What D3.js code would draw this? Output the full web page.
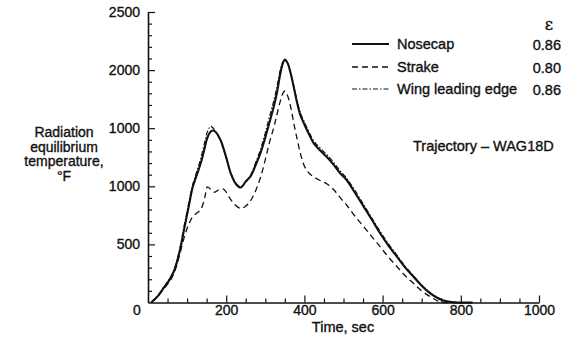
<!DOCTYPE html>
<html><head><meta charset="utf-8">
<script src="https://cdn.jsdelivr.net/npm/d3@7"></script>
<style>
html,body{margin:0;padding:0;background:#fff;}
svg{display:block;font-family:"Liberation Sans",Arial,Helvetica,sans-serif;}
svg text{stroke:#111;stroke-width:0.35px;}
</style></head>
<body>
<svg id="c" width="567" height="348"></svg>
<script>
// ---- data ----
const nosecapTime = [8,25,40,55,67,80,93,105,114,125,135,145,152,160,167,175,186,200,212,225,237,250,263,275,288,300,310,322,330,339,345,350,357,365,373,382,390,399,410,424,440,458,475,492,509,530,552,573,594,615,637,658,679,700,722,743,764,790,830];
const nosecapTemp = [0,55,125,195,275,425,640,840,990,1100,1200,1330,1420,1470,1480,1460,1395,1250,1110,1020,990,1040,1090,1180,1290,1420,1540,1690,1810,1980,2060,2090,2060,1970,1850,1710,1610,1540,1460,1370,1310,1250,1185,1110,1050,940,823,710,594,490,393,300,222,145,79,35,10,0,0];

const strakeTime = [8,25,40,55,67,80,93,105,114,125,135,145,152,160,167,173,181,191,200,207,220,237,250,263,275,288,300,310,322,330,339,345,350,357,365,373,382,390,399,410,424,440,458,475,492,509,530,552,573,594,615,637,658,679,700,722,740,756,790];
const strakeTemp = [0,50,115,180,255,400,565,680,737,770,800,900,995,975,950,952,970,980,950,910,850,809,830,880,960,1080,1230,1370,1510,1620,1740,1800,1820,1780,1682,1540,1396,1280,1181,1120,1081,1050,1020,970,900,835,740,651,565,479,390,308,230,165,100,50,15,0,0];

const wingTime = [8,25,40,55,67,80,93,105,114,125,135,145,152,160,167,175,186,200,212,225,237,250,263,275,288,300,310,322,330,339,345,350,357,365,373,382,390,399,410,424,440,458,475,492,509,530,552,573,594,615,637,658,679,700,722,743,764,790,830];
const wingTemp = [0,60,130,205,285,445,670,870,1010,1130,1240,1380,1470,1515,1500,1460,1385,1240,1110,1020,995,1045,1100,1200,1320,1460,1590,1740,1860,2010,2070,2090,2060,1975,1860,1725,1630,1560,1480,1390,1330,1270,1205,1130,1065,960,840,725,610,505,405,310,230,150,85,38,12,0,0];

const legendNames = ["Nosecap","Strake","Wing leading edge"];
const emissivity = ["0.86","0.80","0.86"];

const xTickValues = [200,400,600,800,1000];
const xTickLabels = ["200","400","600","800","1000"];
const yTickValues = [500,1000,1500,2000,2500];
const yTickLabels = ["500","1000","1000","2000","2500"];
const originLabel = "0";
const yTitle = ["Radiation","equilibrium","temperature,","°F"];
const xTitle = "Time, sec";
const annotation = "Trajectory \u2013 WAG18D";

// ---- drawing ----
const svg = d3.select("#c");
const x = d3.scaleLinear().domain([0,1000]).range([148,539]);
const y = d3.scaleLinear().domain([0,2500]).range([302.5,12]);
const ink = "#111";

const yMinor = d3.range(0,2501,100).filter(v => v % 500 !== 0);
const xMinor = d3.range(0,1001,50).filter(v => v % 200 !== 0);

svg.append("g").attr("transform",`translate(${x(0)},0)`)
  .call(d3.axisLeft(y).tickValues(yTickValues).tickSizeInner(-7).tickSizeOuter(0).tickPadding(8)
    .tickFormat((d,i)=>yTickLabels[i]));
svg.append("g").attr("transform",`translate(${x(0)},0)`)
  .call(d3.axisLeft(y).tickValues(yMinor).tickSize(-4).tickFormat(""))
  .select(".domain").remove();

svg.append("g").attr("transform",`translate(0,${y(0)})`)
  .call(d3.axisBottom(x).tickValues(xTickValues).tickSizeInner(-7).tickSizeOuter(0).tickPadding(3)
    .tickFormat((d,i)=>xTickLabels[i]));
svg.append("g").attr("transform",`translate(0,${y(0)})`)
  .call(d3.axisBottom(x).tickValues(xMinor).tickSize(-4).tickFormat(""))
  .select(".domain").remove();

svg.selectAll(".domain").attr("stroke",ink).attr("stroke-width",1.6);
svg.selectAll(".tick line").attr("stroke",ink).attr("stroke-width",1.2);
svg.selectAll(".tick text").attr("fill",ink).style("font-size","14px").style("font-family",'"Liberation Sans",Arial,sans-serif');

svg.append("text").attr("x",137).attr("y",315).attr("text-anchor","middle")
  .attr("fill",ink).style("font-size","14px").text(originLabel);

svg.append("text").attr("x",343).attr("y",332).attr("text-anchor","middle")
  .attr("fill",ink).style("font-size","14.5px").text(xTitle);
const yt = svg.append("text").attr("text-anchor","middle").attr("fill",ink).style("font-size","14px");
yTitle.forEach((s,i)=>yt.append("tspan").attr("x",64).attr("y",137+i*14.6).text(s));

const line = d3.line().x(d=>x(d[0])).y(d=>y(d[1])).curve(d3.curveCatmullRom.alpha(0.5));
const series = [
  {t:nosecapTime, v:nosecapTemp, w:2.1, dash:null},
  {t:strakeTime,  v:strakeTemp,  w:1.3, dash:"6,4"},
  {t:wingTime,    v:wingTemp,    w:1.2, dash:"5,2,1.5,2"}
];
series.forEach(s=>{
  svg.append("path").datum(d3.zip(s.t,s.v)).attr("d",line)
    .attr("fill","none").attr("stroke",ink).attr("stroke-width",s.w)
    .attr("stroke-dasharray",s.dash);
});

const legY = [44,67,89];
series.forEach((s,i)=>{
  svg.append("line").attr("x1",352).attr("x2",389).attr("y1",legY[i]).attr("y2",legY[i])
    .attr("stroke",ink).attr("stroke-width",s.w).attr("stroke-dasharray",s.dash);
  svg.append("text").attr("x",397).attr("y",legY[i]+5).attr("fill",ink)
    .style("font-size","14.5px").text(legendNames[i]);
  svg.append("text").attr("x",561).attr("y",legY[i]+6).attr("text-anchor","end").attr("fill",ink)
    .style("font-size","14.5px").text(emissivity[i]);
});
svg.append("text").attr("x",549).attr("y",30).attr("text-anchor","middle").attr("fill",ink)
  .style("font-family",'"DejaVu Serif","Liberation Serif",serif').style("font-size","16px").text("\u03B5");

svg.append("text").attr("x",413).attr("y",151).attr("fill",ink).style("font-size","14.5px").text(annotation);
</script>
</body></html>
